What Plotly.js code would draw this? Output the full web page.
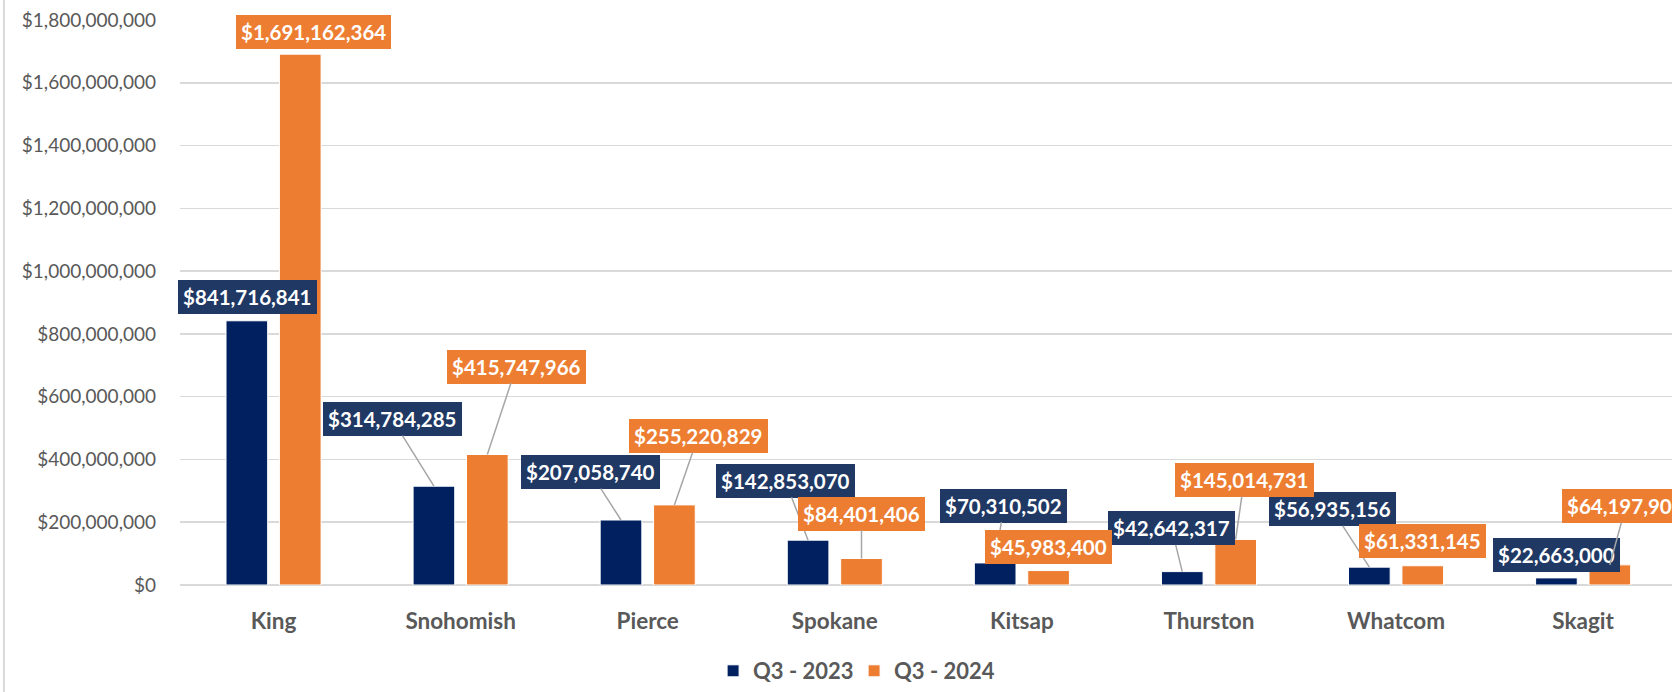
<!DOCTYPE html>
<html>
<head>
<meta charset="utf-8">
<script src="https://cdn.plot.ly/plotly-3.0.1.min.js"></script>
<style>
  html, body { margin: 0; padding: 0; background: #ffffff; }
  #chart { width: 1672px; height: 692px; }
</style>
</head>
<body>
<div id="chart"></div>
<script>
// ---- Data ----
const categories = ['King', 'Snohomish', 'Pierce', 'Spokane', 'Kitsap', 'Thurston', 'Whatcom', 'Skagit'];
const seriesNames = ['Q3 - 2023', 'Q3 - 2024'];
const q3_2023 = [841716841, 314784285, 207058740, 142853070, 70310502, 42642317, 56935156, 22663000];
const q3_2024 = [1691162364, 415747966, 255220829, 84401406, 45983400, 145014731, 61331145, 64197900];
const yTickValues = [0, 200000000, 400000000, 600000000, 800000000, 1000000000, 1200000000, 1400000000, 1600000000, 1800000000];

// ---- Label placement (pixel offsets of the callout box centre from the bar top) ----
const offsets2023 = [[0.5, -24], [-41.7, -67], [-30.8, -47.9], [-22.9, -59.5], [8.6, -57.4], [-10.6, -43.2], [-37.2, -57.7], [0, -23.3]];
const offsets2024 = [[13.5, -22], [29, -87.8], [23.9, -68.9], [0, -45], [0, -23.9], [8.5, -59.6], [0, -24.3], [16, -58.9]];
const leader2023 = [false, true, true, true, true, true, true, false];
const leader2024 = [false, true, true, true, false, true, false, true];

// ---- Styles ----
const navy = '#002060';
const navyBox = '#203864';
const orange = '#ED7D31';
const grey = '#595959';
const font = 'Lato, "Open Sans", "Liberation Sans", sans-serif';
const bargap = 0.429;
const bargroupgap = 0.22;
const halfSlot = (1 - bargap) / 4;

const fmt = v => '$' + v.toLocaleString('en-US');

const traces = [
  { type: 'bar', name: seriesNames[0], x: categories, y: q3_2023,
    marker: { color: navy, line: { color: '#ffffff', width: 1 } }, hoverinfo: 'skip' },
  { type: 'bar', name: seriesNames[1], x: categories, y: q3_2024,
    marker: { color: orange, line: { color: '#ffffff', width: 1 } }, hoverinfo: 'skip' }
];

function makeLabels(values, offs, leaders, dx, bg) {
  return values.map((v, i) => ({
    x: i + dx, y: v, xref: 'x', yref: 'y',
    text: fmt(v),
    showarrow: true, arrowhead: 0, arrowwidth: 1.5,
    arrowcolor: leaders[i] ? '#A6A6A6' : 'rgba(0,0,0,0)',
    ax: offs[i][0], ay: offs[i][1],
    standoff: 0, startstandoff: 0,
    bgcolor: bg, bordercolor: bg, borderwidth: 1, borderpad: 4,
    font: { family: font, size: 20.5, color: '#ffffff', weight: 700 }
  }));
}

const annotations = [
  ...makeLabels(q3_2023, offsets2023, leader2023, -halfSlot, navyBox),
  ...makeLabels(q3_2024, offsets2024, leader2024, halfSlot, orange)
];

const layout = {
  width: 1672, height: 692,
  margin: { l: 180, r: 0, t: 20, b: 102, pad: 0 },
  paper_bgcolor: '#ffffff', plot_bgcolor: '#ffffff',
  barmode: 'group', bargap: bargap, bargroupgap: bargroupgap,
  showlegend: true,
  legend: {
    orientation: 'h', x: 0.3573, xanchor: 'left', y: -0.153, yanchor: 'middle',
    entrywidth: 96, entrywidthmode: 'pixels',
    font: { family: font, size: 22, color: grey, weight: 700 },
    bgcolor: 'rgba(0,0,0,0)'
  },
  xaxis: {
    type: 'category', range: [-0.5, 7.475], fixedrange: true,
    showgrid: false, showline: false, zeroline: false, ticks: '',
    ticklabelstandoff: 20,
    tickfont: { family: font, size: 22.5, color: grey, weight: 700 }
  },
  yaxis: {
    range: [0, 1800000000], tickmode: 'array', tickvals: yTickValues,
    ticktext: yTickValues.map(fmt),
    showgrid: true, gridcolor: '#D9D9D9', gridwidth: 1.5,
    zeroline: true, zerolinecolor: '#D9D9D9', zerolinewidth: 1.5,
    showline: false, ticks: '', ticklabelstandoff: 23,
    tickfont: { family: font, size: 19, color: grey }
  },
  shapes: [{
    type: 'line', xref: 'paper', yref: 'paper',
    x0: -0.118, x1: -0.118, y0: -0.2, y1: 1.05,
    line: { color: '#D9D9D9', width: 2 }
  }],
  annotations: annotations
};

Plotly.newPlot('chart', traces, layout, { displayModeBar: false, staticPlot: true });
</script>
</body>
</html>
